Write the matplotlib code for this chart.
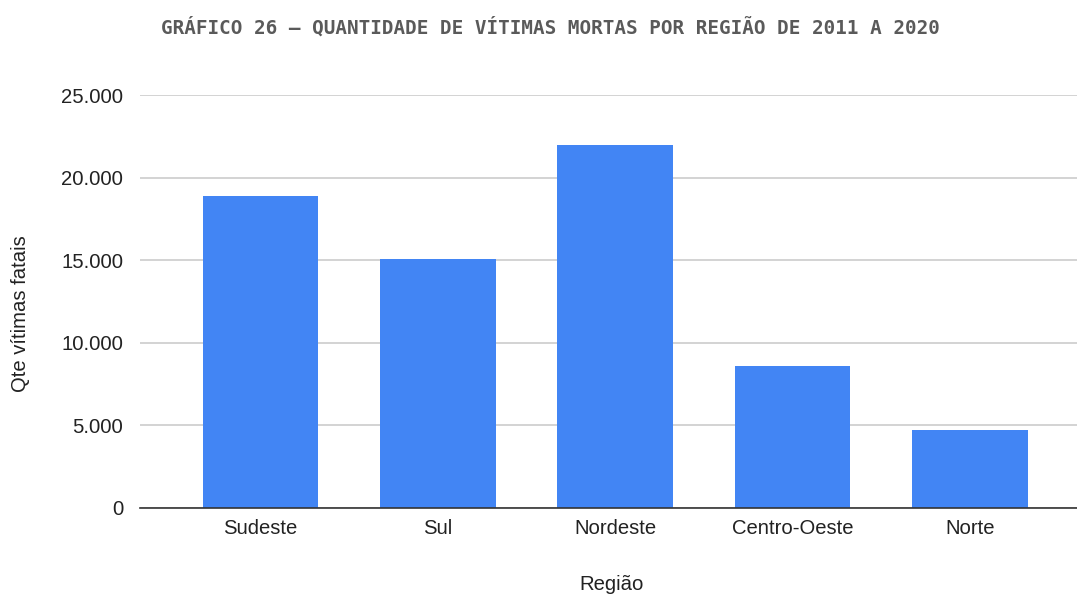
import matplotlib
matplotlib.use("Agg")
import matplotlib.pyplot as plt
from matplotlib.ticker import FuncFormatter

categories = ["Sudeste", "Sul", "Nordeste", "Centro-Oeste", "Norte"]
values = [18890, 15050, 22000, 8580, 4700]
yticks = [0, 5000, 10000, 15000, 20000, 25000]

W, H = 1077, 596
fig = plt.figure(figsize=(W / 100, H / 100), dpi=100)
ax = fig.add_axes([140 / W, 1 - 507.7 / H, (W - 140) / W, (507.7 - 95) / H])

x = list(range(len(categories)))
ax.bar(x, values, width=0.652, color="#4285F4", zorder=3)

ax.set_xlim(-0.68, 4.605)
ax.set_ylim(0, 25000)
ax.set_yticks(yticks)
ax.yaxis.set_major_formatter(FuncFormatter(lambda v, p: f"{int(v):,}".replace(",", ".")))
ax.set_xticks(x)
ax.set_xticklabels(categories)

for s in ["top", "right", "left"]:
    ax.spines[s].set_visible(False)
ax.spines["bottom"].set_color("#333333")
ax.spines["bottom"].set_linewidth(1.2)
ax.spines["bottom"].set_zorder(4)
ax.grid(axis="y", color="#cccccc", linewidth=1.2, zorder=0)
ax.tick_params(axis="both", length=0, labelsize=14.6, labelcolor="#222222")
ax.tick_params(axis="y", pad=12)
ax.tick_params(axis="x", pad=8)
for lab in ax.get_xticklabels() + ax.get_yticklabels():
    lab.set_family(["Liberation Sans", "DejaVu Sans"])

fig.text(612 / W, 1 - 585 / H, "Região", ha="center", va="center",
         fontsize=14.6, color="#222222", family=["Liberation Sans", "DejaVu Sans"])
fig.text(21 / W, 1 - 314 / H, "Qte vítimas fatais", ha="center", va="center",
         rotation=90, fontsize=14.6, color="#222222", family=["Liberation Sans", "DejaVu Sans"])
fig.text(550 / W, 1 - 27 / H, "GRÁFICO 26 – QUANTIDADE DE VÍTIMAS MORTAS POR REGIÃO DE 2011 A 2020",
         ha="center", va="center", fontsize=13.9, color="#5a5a5a", fontweight="bold",
         family=["DejaVu Sans Mono", "DejaVu Sans"])

fig.savefig("out.png", dpi=100)
